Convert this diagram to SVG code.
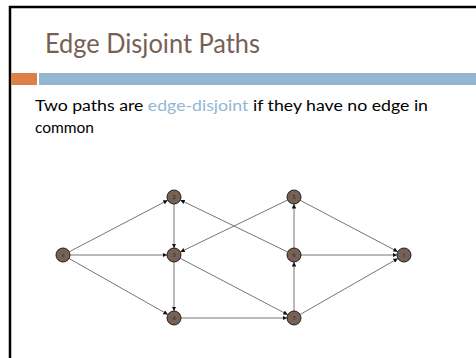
<svg xmlns="http://www.w3.org/2000/svg" width="476" height="358" viewBox="0 0 476 358">
<style>
.edge{stroke:#666;stroke-width:0.9;fill:none;marker-end:url(#ah)}
.node circle{fill:#776055;stroke:#111;stroke-width:0.9}
.node text{font-family:"DejaVu Sans",sans-serif;font-size:5px;fill:#222;text-anchor:middle}
.title{font-family:Lato,"Liberation Sans",sans-serif;font-size:26px;fill:#775F55}
.body{font-family:Lato,"Liberation Sans",sans-serif;font-size:15.5px;fill:#000}
</style>
<defs>
<marker id="ah" viewBox="0 0 10 10" refX="10" refY="5" markerWidth="4.5" markerHeight="4.5" markerUnits="userSpaceOnUse" orient="auto">
<path d="M0,0 L10,5 L0,10 z" fill="#111"/>
</marker>
</defs>
<rect x="0" y="0" width="476" height="358" fill="#fff"/>
<path d="M10,358 L10,7 L476,7" stroke="#000" stroke-width="2.5" fill="none"/>
<rect x="11" y="73" width="26" height="12" fill="#DD8047"/>
<rect x="39" y="73" width="437" height="12" fill="#94B6D2"/>
<text class="title" x="45" y="53" textLength="215" lengthAdjust="spacingAndGlyphs">Edge Disjoint Paths</text>
<text class="body" x="35" y="111" textLength="393" lengthAdjust="spacingAndGlyphs">Two paths are <tspan fill="#94B6D2">edge-disjoint</tspan> if they have no edge in</text>
<text class="body" x="35" y="133" textLength="59" lengthAdjust="spacingAndGlyphs">common</text>
<g id="connectors">
<line class="edge" x1="69.2" y1="251.8" x2="167.8" y2="200.2"/>
<line class="edge" x1="70" y1="255" x2="167" y2="255"/>
<line class="edge" x1="69.1" y1="258.5" x2="167.9" y2="314.5"/>
<line class="edge" x1="174" y1="204" x2="174" y2="248"/>
<line class="edge" x1="174" y1="262" x2="174" y2="311"/>
<line class="edge" x1="287.7" y1="252" x2="180.3" y2="200"/>
<line class="edge" x1="287.7" y1="200" x2="180.3" y2="252"/>
<line class="edge" x1="180.2" y1="258.3" x2="287.8" y2="314.7"/>
<line class="edge" x1="181" y1="318" x2="287" y2="318"/>
<line class="edge" x1="294" y1="311" x2="294" y2="262"/>
<line class="edge" x1="294" y1="248" x2="294" y2="204"/>
<line class="edge" x1="300.2" y1="200.3" x2="397.8" y2="251.7"/>
<line class="edge" x1="301" y1="255" x2="397" y2="255"/>
<line class="edge" x1="300.1" y1="314.5" x2="397.9" y2="258.5"/>
</g>
<g id="node-s" class="node"><circle cx="63" cy="255" r="7"/><text x="63" y="257">s</text></g>
<g id="node-2" class="node"><circle cx="174" cy="197" r="7"/><text x="174" y="199">2</text></g>
<g id="node-3" class="node"><circle cx="174" cy="255" r="7"/><text x="174" y="257">3</text></g>
<g id="node-4" class="node"><circle cx="174" cy="318" r="7"/><text x="174" y="320">4</text></g>
<g id="node-5" class="node"><circle cx="294" cy="197" r="7"/><text x="294" y="199">5</text></g>
<g id="node-6" class="node"><circle cx="294" cy="255" r="7"/><text x="294" y="257">6</text></g>
<g id="node-7" class="node"><circle cx="294" cy="318" r="7"/><text x="294" y="320">7</text></g>
<g id="node-t" class="node"><circle cx="404" cy="255" r="7"/><text x="404" y="257">t</text></g>
</svg>
